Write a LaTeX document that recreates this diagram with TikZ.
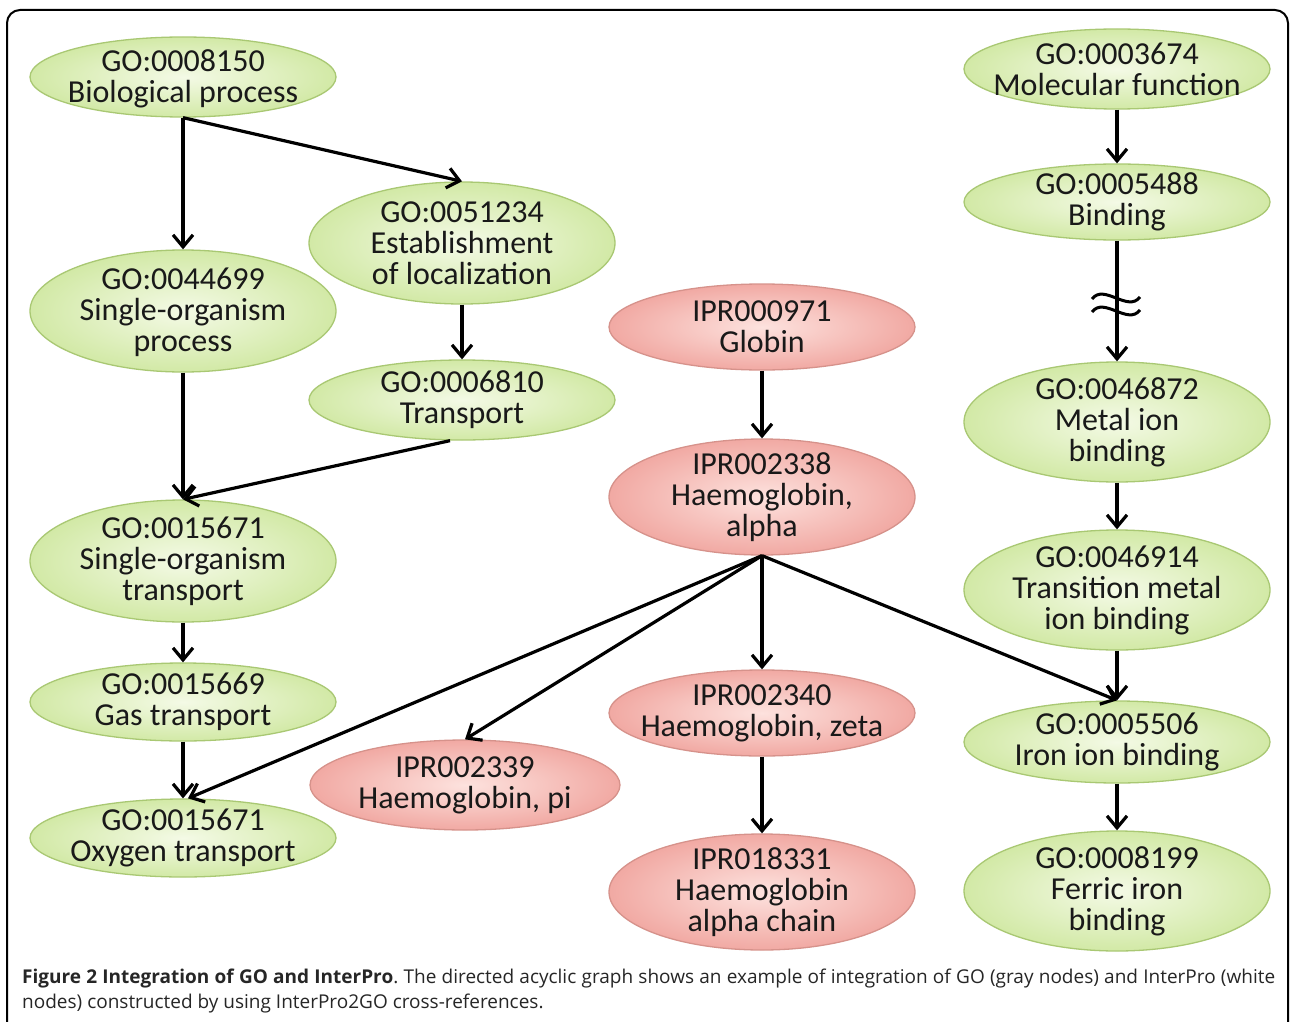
\documentclass[tikz,border=0pt]{standalone}
\usepackage{fontspec}
\setmainfont{Carlito}
\newfontfamily\capfont{Open Sans}
\usetikzlibrary{shapes.geometric,arrows.meta}
\definecolor{gin}{HTML}{F4FAE6}
\definecolor{gout}{HTML}{D2E9A6}
\definecolor{gbd}{HTML}{A9C873}
\definecolor{rin}{HTML}{FDE2DE}
\definecolor{rout}{HTML}{F1A9A3}
\definecolor{rbd}{HTML}{D6928B}
\tikzset{
  goell/.style={ellipse, draw=gbd, line width=1.3pt, shading=radial, inner color=gin, outer color=gout, inner sep=0pt},
  ipell/.style={ellipse, draw=rbd, line width=1.3pt, shading=radial, inner color=rin, outer color=rout, inner sep=0pt},
  lbl/.style={align=center, inner sep=0pt, font=\fontsize{32}{31}\selectfont, text=black!90},
  link/.style={line width=3.2pt, -{Straight Barb[length=12pt,width=20pt]}},
  wave/.style={line width=3pt},
}
\begin{document}
\begin{tikzpicture}[x=1pt,y=-1pt]
\useasboundingbox (0,0) rectangle (1290,1022);
\fill[white] (0,0) rectangle (1290,1022);
\begin{scope}
\clip (0,0) rectangle (1290,1022);
\draw[line width=2pt, rounded corners=13pt] (7,1070) -- (7,10) -- (1288,10) -- (1288,1070);
\end{scope}

% GO left column
\node[goell, minimum width=306, minimum height=80] (bp) at (183,77) {};
\node[lbl] (bp-t) at ([yshift=-2pt]bp) {GO:0008150\\Biological process};
\node[goell, minimum width=306, minimum height=122] (sop) at (183,311) {};
\node[lbl] (sop-t) at ([yshift=-1pt]sop) {GO:0044699\\Single-organism\\process};
\node[goell, minimum width=306, minimum height=122] (sot) at (183,561) {};
\node[lbl] (sot-t) at (sot) {GO:0015671\\Single-organism\\transport};
\node[goell, minimum width=306, minimum height=78] (gas) at (183,702) {};
\node[lbl] (gas-t) at (gas) {GO:0015669\\Gas transport};
\node[goell, minimum width=306, minimum height=78] (oxy) at (183,838) {};
\node[lbl] (oxy-t) at (oxy) {GO:0015671\\Oxygen transport};

% second column
\node[goell, minimum width=306, minimum height=122] (est) at (462,243) {};
\node[lbl] (est-t) at (est) {GO:0051234\\Establishment\\of localization};
\node[goell, minimum width=306, minimum height=80] (trn) at (462,400) {};
\node[lbl] (trn-t) at (trn) {GO:0006810\\Transport};
\node[ipell, minimum width=310, minimum height=90] (hpi) at (465,785) {};
\node[lbl] (hpi-t) at (hpi) {IPR002339\\Haemoglobin, pi};

% InterPro column
\node[ipell, minimum width=306, minimum height=86] (glo) at (762,327) {};
\node[lbl] (glo-t) at (glo) {IPR000971\\Globin};
\node[ipell, minimum width=306, minimum height=116] (ha) at (762,497) {};
\node[lbl] (ha-t) at (ha) {IPR002338\\Haemoglobin,\\alpha};
\node[ipell, minimum width=306, minimum height=86] (hz) at (762,713) {};
\node[lbl] (hz-t) at (hz) {IPR002340\\Haemoglobin, zeta};
\node[ipell, minimum width=306, minimum height=116] (hac) at (762,892) {};
\node[lbl] (hac-t) at (hac) {IPR018331\\Haemoglobin\\alpha chain};

% GO right column
\node[goell, minimum width=306, minimum height=80] (mf) at (1117,69) {};
\node[lbl] (mf-t) at (mf) {GO:0003674\\Molecular function};
\node[goell, minimum width=306, minimum height=76] (bind) at (1117,202) {};
\node[lbl] (bind-t) at (bind) {GO:0005488\\Binding};
\node[goell, minimum width=306, minimum height=120] (metal) at (1117,422) {};
\node[lbl] (metal-t) at (metal) {GO:0046872\\Metal ion\\binding};
\node[goell, minimum width=306, minimum height=120] (trans) at (1117,590) {};
\node[lbl] (trans-t) at (trans) {GO:0046914\\Transition metal\\ion binding};
\node[goell, minimum width=306, minimum height=82] (iron) at (1117,742) {};
\node[lbl] (iron-t) at (iron) {GO:0005506\\Iron ion binding};
\node[goell, minimum width=306, minimum height=120] (ferric) at (1117,891) {};
\node[lbl] (ferric-t) at (ferric) {GO:0008199\\Ferric iron\\binding};

% edges
\draw[link] (bp.south) -- (sop.north);
\draw[link] (bp.south) -- (est.north);
\draw[link] (est.south) -- (trn.north);
\draw[link] (sop.south) -- (sot.north);
\draw[link] ([xshift=-12pt]trn.south) -- (sot.north);
\draw[link] (sot.south) -- (gas.north);
\draw[link] (gas.south) -- (oxy.north);
\draw[link] (glo.south) -- (ha.north);
\draw[link] (ha.south) -- ([xshift=5pt]oxy.north);
\draw[link] (ha.south) -- (hpi.north);
\draw[link] (ha.south) -- (hz.north);
\draw[link] (ha.south) -- (iron.north);
\draw[link] (hz.south) -- (hac.north);
\draw[link] (mf.south) -- (bind.north);
\draw[link] (bind.south) -- (metal.north);
\draw[link] (metal.south) -- (trans.north);
\draw[link] (trans.south) -- (iron.north);
\draw[link] (iron.south) -- (ferric.north);
\draw[wave] (1092,299) .. controls (1104,283) and (1128,313) .. (1140,297);
\draw[wave] (1092,312) .. controls (1104,296) and (1128,326) .. (1140,310);

% caption
\node[anchor=north west, text width=1253pt, align=justify, inner sep=0pt,
      font=\capfont\fontsize{19}{25}\selectfont\frenchspacing, text=black!85] (cap) at (22,969)
  {\textbf{Figure 2 Integration of GO and InterPro}. The directed acyclic graph shows an example of integration of GO (gray nodes) and InterPro (white\linebreak nodes) constructed by using InterPro2GO cross-references.};
\end{tikzpicture}
\end{document}
